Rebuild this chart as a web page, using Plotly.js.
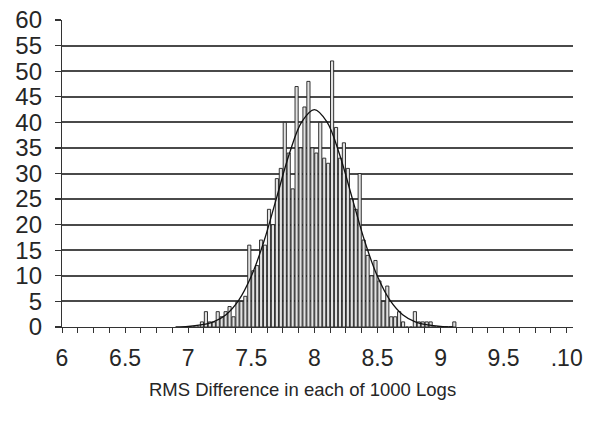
<!DOCTYPE html>
<html>
<head>
<meta charset="utf-8">
<script src="https://cdn.plot.ly/plotly-3.0.1.min.js"></script>
<style>html,body{margin:0;padding:0;background:#fff}#chart{width:597px;height:422px}</style>
</head>
<body>
<div id="chart"></div>
<script>
// Histogram of RMS differences: bins of width 1/32 starting at 7.0
const binStart = 7.0;
const binWidth = 1 / 32;
const counts = [
  0, 0, 0, 1, 3, 1, 1, 3, 2, 3, 4, 2, 5, 5, 6, 16,
  11, 12, 17, 16, 23, 20, 29, 31, 40, 34, 27, 47, 35, 43, 48, 35,
  34, 40, 33, 32, 52, 39, 33, 36, 31, 25, 23, 30, 17, 14, 10, 13,
  9, 5, 8, 2, 2, 3, 1, 0, 0, 3, 1, 1, 1, 1, 0, 0,
  0, 0, 0, 1
];
// Fitted normal curve
const curveX = [6.9, 7.0, 7.1, 7.2, 7.3, 7.4, 7.5, 7.6, 7.7, 7.8, 7.9, 8.0,
                8.1, 8.2, 8.3, 8.4, 8.5, 8.6, 8.7, 8.8, 8.9, 9.0, 9.1];
const curveY = [0.0, 0.1, 0.4, 1.0, 2.4, 5.2, 9.9, 16.7, 25.2, 33.7, 40.1, 42.5,
                40.1, 33.7, 25.2, 16.7, 9.9, 5.2, 2.4, 1.0, 0.4, 0.1, 0.0];
const xTickVals = [6, 6.5, 7, 7.5, 8, 8.5, 9, 9.5, 10];
const xTickText = ["6", "6.5", "7", "7.5", "8", "8.5", "9", "9.5", ".10"];
const yTickVals = [0, 5, 10, 15, 20, 25, 30, 35, 40, 45, 50, 55, 60];
const xTitle = "RMS Difference in each of 1000 Logs";

const font = "Liberation Sans, Arial, Helvetica, sans-serif";
const ink = "#262626";

const traces = [
  {
    type: "bar",
    y: counts,
    x0: binStart + binWidth / 2,
    dx: binWidth,
    marker: {color: "#e2e2e2", line: {color: "#1e1e1e", width: 0.9}},
    width: binWidth * 0.8,
    hoverinfo: "skip"
  },
  {
    type: "scatter",
    mode: "lines",
    x: curveX,
    y: curveY,
    line: {color: "#111", width: 1.3, shape: "spline", smoothing: 1},
    hoverinfo: "skip"
  }
];

const layout = {
  width: 597,
  height: 422,
  margin: {l: 62, r: 24, t: 20, b: 95},
  paper_bgcolor: "#fff",
  plot_bgcolor: "#fff",
  showlegend: false,
  font: {family: font, color: ink},
  bargap: 0,
  xaxis: {
    range: [6, 10.05],
    tickvals: xTickVals,
    ticktext: xTickText,
    tickfont: {size: 23, family: font, color: ink},
    ticks: "outside",
    ticklen: 5,
    tickcolor: "#333",
    tickwidth: 1,
    ticklabelstandoff: 5,
    minor: {dtick: 0.125, tick0: 6, ticks: "outside", ticklen: 5, tickcolor: "#333", tickwidth: 1, showgrid: false},
    showgrid: false,
    zeroline: false,
    showline: true,
    linecolor: "#333",
    linewidth: 1.2
  },
  yaxis: {
    range: [0, 60],
    tickvals: yTickVals,
    tickfont: {size: 24, family: font, color: ink},
    ticks: "outside",
    ticklen: 6,
    tickcolor: "#333",
    tickwidth: 1.2,
    ticklabelstandoff: 8,
    showgrid: true,
    gridcolor: "#4a4a4a",
    gridwidth: 2,
    zeroline: false,
    showline: true,
    linecolor: "#333",
    linewidth: 1.2
  },
  annotations: [
    {
      text: xTitle,
      xref: "paper", yref: "paper",
      x: 0.47, y: -0.205,
      xanchor: "center", yanchor: "middle",
      showarrow: false,
      font: {size: 18.5, family: font, color: ink}
    }
  ]
};

Plotly.newPlot("chart", traces, layout, {staticPlot: true, displayModeBar: false});
</script>
</body>
</html>
